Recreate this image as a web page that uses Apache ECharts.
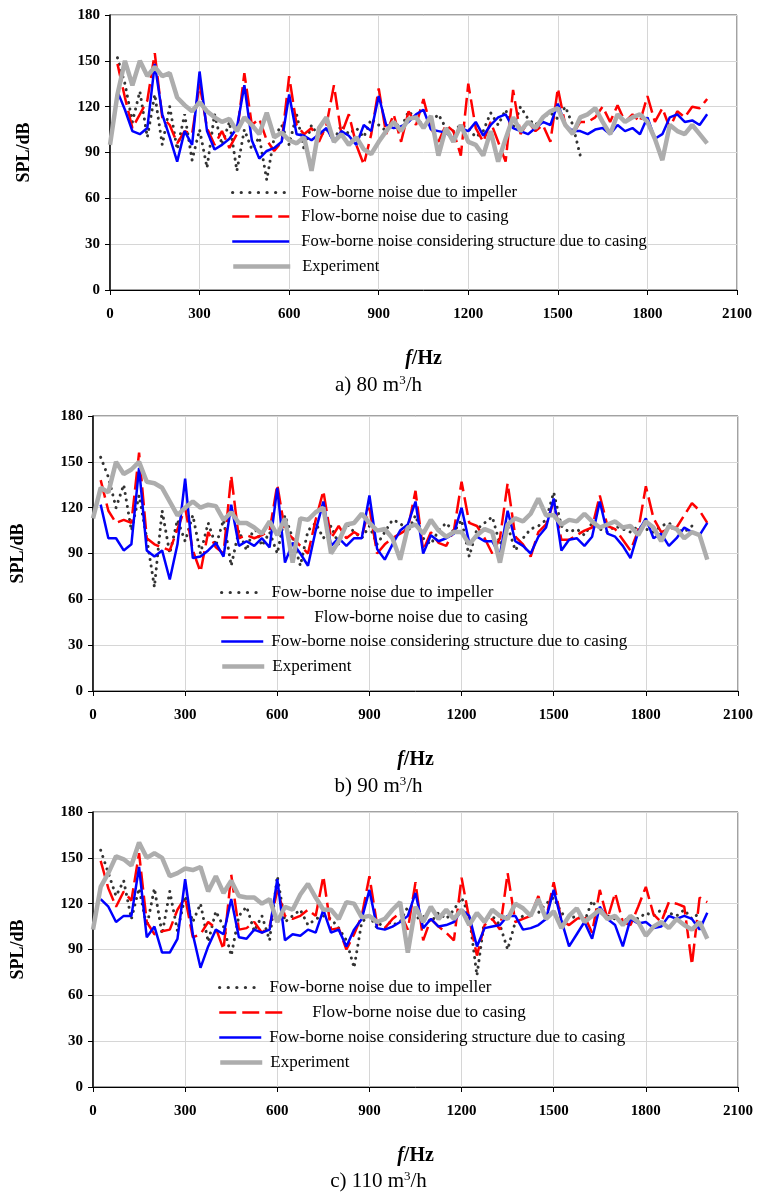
<!DOCTYPE html>
<html>
<head>
<meta charset="utf-8">
<script src="https://cdn.jsdelivr.net/npm/echarts@6/dist/echarts.min.js"></script>
<style>
html,body{margin:0;padding:0;background:#fff;}
#chart{width:757px;height:1198px;}
</style>
</head>
<body>
<div id="chart"></div>
<script>
// Frequency axis values (Hz)
const FREQ = [
  0,25,50,75,100,125,150,175,200,225,
  250,275,300,325,350,375,400,425,450,475,
  500,525,550,575,600,625,650,675,700,725,
  750,775,800,825,850,875,900,925,950,975,
  1000,1025,1050,1075,1100,1125,1150,1175,1200,1225,
  1250,1275,1300,1325,1350,1375,1400,1425,1450,1475,
  1500,1525,1550,1575,1600,1625,1650,1675,1700,1725,
  1750,1775,1800,1825,1850,1875,1900,1925,1950,1975,
  2000
];

const X_TICKS = [0,300,600,900,1200,1500,1800,2100];
const Y_TICKS = [0,30,60,90,120,150,180];

const SERIES_NAMES = [
  'Fow-borne noise due to impeller',
  'Flow-borne noise due to casing',
  'Fow-borne noise considering structure due to casing',
  'Experiment'
];
const PANEL_CAPTIONS = ['a) 80 m', 'b) 90 m', 'c) 110 m'];

// ---------- a) 80 m3/h ----------
const A_IMPELLER = [
  null,152,135,110,130,100,128,95,120,92,
  115,85,105,80,115,95,110,78,105,92,
  100,72,100,108,95,115,92,108,100,105,
  98,108,102,106,100,112,108,104,110,106,
  117,112,108,110,115,106,104,108,106,100,
  104,116,108,118,106,120,112,108,113,116,
  112,120,108,88,null,null,null,null,null,null,
  null,null,null,null,null,null,null,null,null,null,
  null
];
const A_CASING = [
  null,148,126,106,115,124,155,113,108,96,
  104,102,135,106,95,104,93,102,142,108,
  112,98,91,97,140,108,102,106,97,108,
  134,102,115,95,82,102,132,102,115,97,
  117,108,125,106,97,108,104,88,135,106,
  97,110,97,84,131,102,110,104,108,97,
  132,108,102,110,110,113,120,110,121,110,
  115,110,127,110,119,106,117,113,120,119,
  125
];
const A_STRUCTURE = [
  null,130,118,104,102,106,148,115,100,84,
  104,95,143,104,92,95,99,106,134,98,
  86,91,93,97,128,102,101,98,102,106,
  97,104,101,95,108,104,127,108,106,107,
  110,115,118,105,104,103,99,106,104,110,
  101,108,113,115,106,104,102,106,110,108,
  122,108,104,104,102,105,106,102,108,104,
  106,102,113,99,102,113,115,110,111,108,
  115
];
const A_EXPERIMENT = [
  95,128,150,134,150,140,146,140,142,126,
  121,117,123,117,113,110,112,104,113,108,
  102,116,100,103,98,96,100,78,106,113,
  97,102,95,100,92,89,97,104,110,104,
  112,113,106,114,88,106,97,108,97,95,
  88,104,84,99,113,104,110,106,113,117,
  119,108,102,113,115,119,110,102,115,110,
  113,115,110,99,85,108,104,102,108,102,
  96
];

// ---------- b) 90 m3/h ----------
const B_IMPELLER = [
  null,153,140,120,135,105,128,100,68,118,
  90,112,98,115,90,110,95,112,82,105,
  92,108,95,104,90,115,100,82,105,110,
  100,108,96,110,104,100,108,96,104,112,
  110,104,115,100,96,105,110,104,112,88,
  106,110,114,96,108,92,100,106,108,112,
  130,108,104,106,102,110,106,104,108,106,
  104,108,106,104,108,110,106,104,108,null,
  null
];
const B_CASING = [
  null,138,118,110,112,110,156,100,96,94,
  92,106,120,92,78,104,94,90,141,100,
  102,100,102,105,135,105,100,95,90,112,
  131,100,108,100,104,101,120,90,96,100,
  103,106,131,92,104,97,95,105,137,110,
  108,100,90,100,136,101,96,88,104,109,
  124,99,99,102,105,107,128,108,106,99,
  92,105,134,113,104,106,107,115,123,118,
  110
];
const B_STRUCTURE = [
  null,122,100,100,92,96,146,92,88,92,
  73,96,139,87,88,92,97,88,122,95,
  98,95,100,94,133,84,97,90,82,105,
  124,95,100,95,100,100,128,93,86,96,
  105,109,124,90,102,98,100,103,120,97,
  101,98,98,89,118,98,95,90,101,107,
  126,92,99,100,95,101,124,103,101,95,
  87,104,113,100,103,95,100,107,104,102,
  110
];
const B_EXPERIMENT = [
  113,133,130,150,142,145,150,137,136,133,
  124,115,120,124,120,122,121,112,117,110,
  110,107,103,111,102,113,84,113,112,117,
  120,90,98,109,110,116,110,105,106,100,
  86,107,109,103,112,105,101,104,104,96,
  102,106,104,84,109,113,111,116,126,115,
  115,109,112,111,116,111,107,109,111,107,
  108,102,111,107,98,108,106,100,104,102,
  86
];

// ---------- c) 110 m3/h ----------
const C_IMPELLER = [
  null,155,140,125,135,110,130,105,130,100,
  128,102,125,108,120,95,115,105,86,112,
  118,102,112,96,138,108,112,116,106,110,
  112,110,104,96,78,108,112,104,110,106,
  108,118,110,112,108,114,110,116,124,112,
  73,110,112,106,90,108,112,116,114,120,
  124,114,110,112,108,122,114,112,110,108,
  112,110,114,112,116,114,112,116,110,114,
  null
];
const C_CASING = [
  null,148,130,118,128,122,153,108,100,102,
  103,116,124,98,100,108,104,90,139,103,
  104,108,101,105,129,112,110,112,116,112,
  138,103,104,90,100,112,138,106,104,110,
  114,103,134,96,110,105,101,96,137,110,
  86,106,110,103,140,108,110,112,125,110,
  134,109,106,110,112,101,129,110,127,108,
  106,118,131,113,108,121,120,118,80,124,
  121
];
const C_STRUCTURE = [
  null,123,118,108,112,112,144,98,105,88,
  88,97,136,100,78,92,103,100,123,98,
  97,103,101,103,136,96,100,99,103,101,
  116,101,103,92,103,110,129,104,103,105,
  108,112,127,104,110,105,106,108,116,112,
  92,104,105,106,112,112,103,104,106,110,
  129,109,92,100,108,97,118,110,106,92,
  110,107,108,104,105,112,110,112,110,103,
  114
];
const C_EXPERIMENT = [
  103,131,140,151,149,145,160,150,153,150,
  138,140,143,142,144,128,138,127,135,125,
  124,124,120,123,108,118,116,126,133,124,
  116,116,110,121,120,111,112,108,110,116,
  121,88,118,108,118,110,116,110,116,106,
  114,108,116,112,110,120,117,112,123,110,
  115,104,112,117,108,112,116,110,112,106,
  112,108,99,105,108,104,110,106,103,108,
  97
];

const PANELS = [
  [A_IMPELLER, A_CASING, A_STRUCTURE, A_EXPERIMENT],
  [B_IMPELLER, B_CASING, B_STRUCTURE, B_EXPERIMENT],
  [C_IMPELLER, C_CASING, C_STRUCTURE, C_EXPERIMENT]
];

const FONT = '"Liberation Serif", "Times New Roman", serif';

const STYLES = [
  {color:'#333333', width:3, type:[0.1,6.5], cap:'round'},
  {color:'#ff0000', width:2.5, type:[18,6], cap:'butt'},
  {color:'#0000ff', width:2.5, type:'solid', cap:'butt'},
  {color:'#adadad', width:4.5, type:'solid', cap:'butt'}
];
const LEGEND_LINES = [
  {color:'#333333', width:3.2, type:[0.1,8.5], cap:'round'},
  {color:'#ff0000', width:2.5, type:[17,6], cap:'butt'},
  {color:'#0000ff', width:2.5, type:'solid', cap:'butt'},
  {color:'#adadad', width:4.5, type:'solid', cap:'butt'}
];

// layout (pixels)
const GRIDS = [
  {left:110, top:15, width:627, height:275},
  {left:93, top:416, width:645, height:275},
  {left:93, top:812, width:645, height:275}
];
const YNAME_GAP = [77, 66, 66];

const chart = echarts.init(document.getElementById('chart'), null, {renderer:'canvas'});

const grid = GRIDS.map(g => ({left:g.left, top:g.top, width:g.width, height:g.height,
  show:true, borderColor:'#444', borderWidth:1, containLabel:false}));

const xAxis = GRIDS.map((g, i) => ({
  type:'value', gridIndex:i, min:X_TICKS[0], max:X_TICKS[X_TICKS.length-1],
  interval:X_TICKS[1]-X_TICKS[0],
  name:'{i|f}{b|/Hz}', nameLocation:'middle', nameGap:59,
  nameTextStyle:{rich:{
    i:{fontFamily:FONT, fontSize:20, fontWeight:'bold', fontStyle:'italic', color:'#000'},
    b:{fontFamily:FONT, fontSize:20, fontWeight:'bold', color:'#000'}
  }},
  axisLine:{show:true, onZero:false, lineStyle:{color:'#000', width:1}},
  axisTick:{show:true, inside:false, length:5, lineStyle:{color:'#000'}},
  axisLabel:{fontFamily:FONT, fontSize:15, fontWeight:'bold', color:'#000', margin:17,
    formatter:v => String(v)},
  splitLine:{show:true, lineStyle:{color:'#d6d6d6', width:1}}
}));

const yAxis = GRIDS.map((g, i) => ({
  type:'value', gridIndex:i, min:Y_TICKS[0], max:Y_TICKS[Y_TICKS.length-1],
  interval:Y_TICKS[1]-Y_TICKS[0],
  name:'SPL/dB', nameLocation:'middle', nameGap:YNAME_GAP[i], nameRotate:90,
  nameTextStyle:{fontFamily:FONT, fontSize:18, fontWeight:'bold', color:'#000'},
  axisLine:{show:true, lineStyle:{color:'#000', width:1.5}},
  axisTick:{show:true, inside:false, length:5, lineStyle:{color:'#000'}},
  axisLabel:{fontFamily:FONT, fontSize:15, fontWeight:'bold', color:'#000', margin:10,
    formatter:v => String(v)},
  splitLine:{show:true, lineStyle:{color:'#d6d6d6', width:1}}
}));

const series = [];
PANELS.forEach((arrs, p) => {
  arrs.forEach((arr, s) => {
    series.push({
      name:SERIES_NAMES[s], type:'line', xAxisIndex:p, yAxisIndex:p,
      data:FREQ.map((f, k) => [f, arr[k] === null ? '-' : arr[k]]),
      symbol:'none', showSymbol:false, connectNulls:false, smooth:false,
      lineStyle:Object.assign({}, STYLES[s]),
      itemStyle:{color:STYLES[s].color},
      z:2 + s, silent:true, animation:false
    });
  });
});

// legends: one component per entry for exact placement
const LEG = [
  {x:231, rows:[194,218,243,268], w:[57,57,57,57], gap:[7,7,7,7], fs:16.5},
  {x:220, rows:[594,619,643,668], w:[42,67,42,42], gap:[3,21,3,3], fs:17},
  {x:218, rows:[989,1014,1039,1064], w:[42,67,42,42], gap:[3,21,3,3], fs:17}
];
const legend = [];
LEG.forEach(L => {
  SERIES_NAMES.forEach((nm, s) => {
    legend.push({
      data:[nm], orient:'horizontal', left:L.x, top:L.rows[s]-10,
      itemWidth:L.w[s], itemHeight:14, padding:0, selectedMode:false,
      itemStyle:{opacity:0},
      lineStyle:Object.assign({}, LEGEND_LINES[s]),
      textStyle:{fontFamily:FONT, fontSize:L.fs, color:'#000', padding:[0,0,0,L.gap[s]]}
    });
  });
});

const CAP_Y = [387, 788, 1183];
const graphic = PANEL_CAPTIONS.map((c, i) => ({
  type:'text', left:'center', top:CAP_Y[i]-13,
  style:{
    text:'{n|' + c + '}{s|3}{n|/h}',
    rich:{
      n:{fontFamily:FONT, fontSize:21, fill:'#000'},
      s:{fontFamily:FONT, fontSize:13, fill:'#000', padding:[0,0,9,0]}
    }
  }
}));

chart.setOption({
  animation:false,
  backgroundColor:'#fff',
  grid, xAxis, yAxis, series, legend, graphic
});
</script>
</body>
</html>
